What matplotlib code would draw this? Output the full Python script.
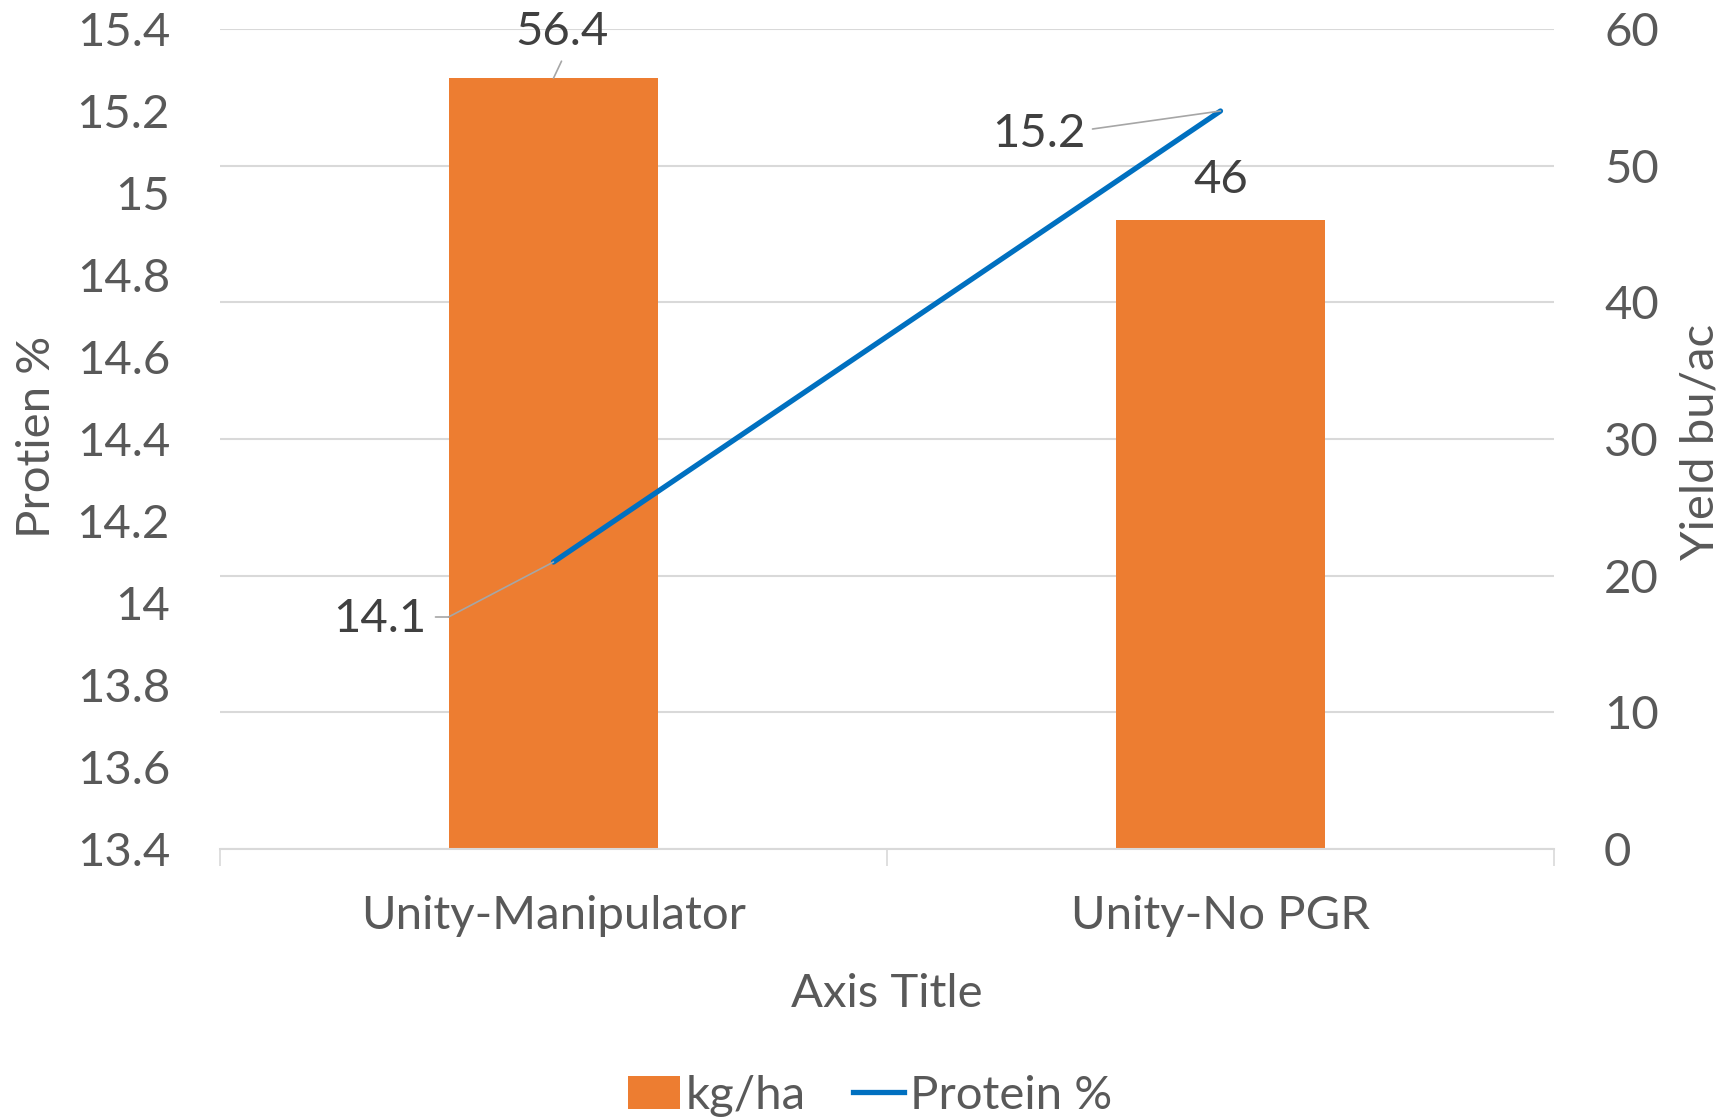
import matplotlib
matplotlib.use("Agg")
import matplotlib.pyplot as plt
import matplotlib.transforms as mtransforms
from matplotlib.patches import Patch
from matplotlib.lines import Line2D

categories = ["Unity-Manipulator", "Unity-No PGR"]
yield_vals = [56.4, 46]
protein_vals = [14.1, 15.2]
yield_label = ["56.4", "46"]
protein_label = ["14.1", "15.2"]
left_ticks = [13.4, 13.6, 13.8, 14, 14.2, 14.4, 14.6, 14.8, 15, 15.2, 15.4]
left_tick_labels = ["13.4", "13.6", "13.8", "14", "14.2", "14.4", "14.6", "14.8", "15", "15.2", "15.4"]
right_ticks = [0, 10, 20, 30, 40, 50, 60]

FONT = "Lato"
FS = 34
TXT = "#595959"
DL = "#404040"
GRID = "#d9d9d9"
ORANGE = "#ED7D31"
BLUE = "#0070C0"

plt.rcParams['font.family'] = [FONT, 'DejaVu Sans']

W, H = 1734, 1120
fig = plt.figure(figsize=(W / 100, H / 100), dpi=100)
ax1 = fig.add_axes([220 / W, 1 - 849 / H, (1554 - 220) / W, (849 - 29) / H])
ax2 = ax1.twinx()

x = list(range(len(categories)))

# bars on right axis
ax2.bar(x, yield_vals, width=0.313, color=ORANGE, zorder=2)
ax2.set_ylim(0, 60)
ax2.set_yticks(right_ticks)
ax2.set_yticklabels([str(t) for t in right_ticks])
ax2.yaxis.grid(True, color=GRID, lw=1.5, zorder=0)
ax2.set_axisbelow(True)
ax2.tick_params(axis='y', length=0, pad=36, labelsize=FS, labelcolor=TXT)

# line on left axis
ax1.plot(x, protein_vals, color=BLUE, lw=3.8, solid_capstyle='round', zorder=3)
ax1.set_ylim(13.4, 15.4)
ax1.set_yticks(left_ticks)
ax1.set_yticklabels(left_tick_labels)
ax1.tick_params(axis='y', length=0, pad=36, labelsize=FS, labelcolor=TXT)
ax1.set_xlim(-0.5, 1.5)
ax1.set_xticks(x)
ax1.set_xticklabels(categories)
ax1.tick_params(axis='x', which='major', length=0, pad=33, labelsize=FS, labelcolor=TXT)
ax1.set_xticks([-0.5, 0.5, 1.5], minor=True)
ax1.tick_params(axis='x', which='minor', length=12, width=1.2, color=GRID, direction='out')

ax1.set_zorder(ax2.get_zorder() + 1)
ax1.patch.set_visible(False)

for a in (ax1, ax2):
    for s in ['top', 'left', 'right']:
        a.spines[s].set_visible(False)
ax2.spines['bottom'].set_visible(False)
ax1.spines['bottom'].set_color(GRID)
ax1.spines['bottom'].set_linewidth(1.5)

lead = dict(arrowstyle='-', color='#a6a6a6', lw=1.2, shrinkA=0, shrinkB=0)

# bar data labels
ax2.annotate(yield_label[0], xy=(x[0], yield_vals[0]), xytext=(8, 46), textcoords='offset pixels',
             ha='center', va='center', fontsize=FS, color=DL, zorder=5)
ax2.annotate('', xy=(x[0], yield_vals[0]), xytext=(8, 17), textcoords='offset pixels', arrowprops=lead)
ax2.annotate(yield_label[1], xy=(x[1], yield_vals[1]), xytext=(0, 40), textcoords='offset pixels',
             ha='center', va='center', fontsize=FS, color=DL, zorder=5)

# line data labels
ax1.annotate(protein_label[1], xy=(x[1], protein_vals[1]), xytext=(-182, -23), textcoords='offset pixels',
             ha='center', va='center', fontsize=FS, color=DL, zorder=5)
ax1.annotate('', xy=(x[1], protein_vals[1]), xytext=(-128, -18), textcoords='offset pixels', arrowprops=lead)
ax1.annotate(protein_label[0], xy=(x[0], protein_vals[0]), xytext=(-174, -57), textcoords='offset pixels',
             ha='center', va='center', fontsize=FS, color=DL, zorder=5)
ax1.annotate('', xy=(x[0], protein_vals[0]), xytext=(-105, -55), textcoords='offset pixels', arrowprops=lead)
shifted = ax1.transData + mtransforms.Affine2D().translate(-105, -55)
ax1.annotate('', xy=(x[0], protein_vals[0]), xycoords=shifted, xytext=(-13, 0), textcoords='offset pixels',
             arrowprops=lead)

# axis titles
fig.text(37 / W, 1 - 437 / H, "Protien %", rotation=90, ha='center', va='center', fontsize=FS, color=TXT)
fig.text(1700 / W, 1 - 442 / H, "Yield bu/ac", rotation=90, ha='center', va='center', fontsize=FS, color=TXT)
fig.text(887 / W, 1 - 994 / H, "Axis Title", ha='center', va='center', fontsize=FS, color=TXT)

handles = [Patch(facecolor=ORANGE, edgecolor='none'), Line2D([0], [0], color=BLUE, lw=3.8)]
fig.legend(handles, ["kg/ha", "Protein %"], loc='center', bbox_to_anchor=(870 / W, 1 - 1096 / H),
           ncol=2, frameon=False, fontsize=FS, labelcolor=TXT, handlelength=1.1, handleheight=0.7,
           handletextpad=0.12, columnspacing=1.0)

fig.savefig("out.png", dpi=100)
